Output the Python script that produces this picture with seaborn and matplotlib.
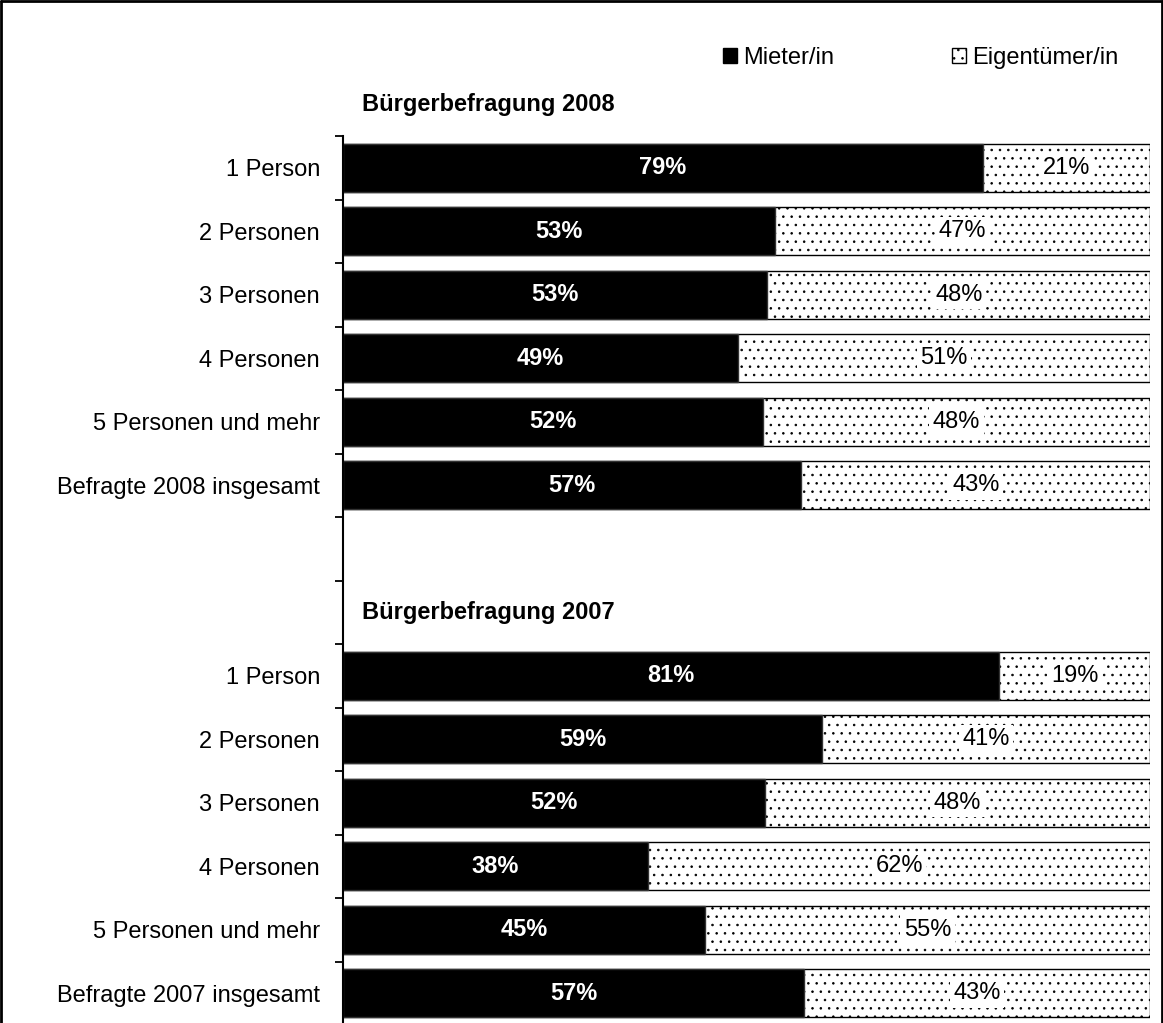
import pandas as pd
import seaborn as sns
import matplotlib.pyplot as plt
from matplotlib.patches import Patch
from matplotlib.lines import Line2D

kategorien = ['1 Person', '2 Personen', '3 Personen', '4 Personen',
              '5 Personen und mehr']
mieter_2008 = [79.3, 53.5, 52.6, 49.0, 52.0, 56.8]
mieter_2007 = [81.3, 59.4, 52.3, 37.8, 44.9, 57.1]
# beschriftete Prozentwerte
label_mieter_2008 = [79, 53, 53, 49, 52, 57]
label_eigen_2008 = [21, 47, 48, 51, 48, 43]
label_mieter_2007 = [81, 59, 52, 38, 45, 57]
label_eigen_2007 = [19, 41, 48, 62, 55, 43]

rows = []
for jahr, mieter, lm, le in [(2008, mieter_2008, label_mieter_2008, label_eigen_2008),
                             (2007, mieter_2007, label_mieter_2007, label_eigen_2007)]:
    namen = kategorien + [f'Befragte {jahr} insgesamt']
    for name, m, a, b in zip(namen, mieter, lm, le):
        rows.append({'key': f'{jahr}|{name}', 'name': name, 'mieter': m,
                     'gesamt': 100.0, 'lm': a, 'le': b})
df = pd.DataFrame(rows)

order = list(df['key'][:6]) + ['leer1', 'leer2'] + list(df['key'][6:])
ticklabels = list(df['name'][:6]) + ['', ''] + list(df['name'][6:])

FS = 17

sns.set_style('white')
plt.rcParams['font.family'] = ['Liberation Sans', 'DejaVu Sans']
plt.rcParams['hatch.linewidth'] = 0.6
plt.rcParams['text.color'] = 'black'
plt.rcParams['ytick.color'] = 'black'
plt.rcParams['ytick.labelcolor'] = 'black'

fig = plt.figure(figsize=(11.63, 10.23), dpi=100)
ax = fig.add_axes([343 / 1163, -0.002, 807 / 1163, 0.869])

sns.barplot(data=df, y='key', x='gesamt', order=order, color='white',
            edgecolor='black', linewidth=1, hatch='..', width=0.75,
            saturation=1, orient='h', ax=ax)
sns.barplot(data=df, y='key', x='mieter', order=order, color='black',
            edgecolor='#333333', linewidth=1, width=0.75, saturation=1,
            orient='h', ax=ax)

pos = {k: i for i, k in enumerate(order)}
for _, r in df.iterrows():
    y = pos[r['key']]
    ax.text(r['mieter'] / 2, y, f"{r['lm']}%", color='white', fontsize=FS,
            fontweight='bold', ha='center', va='center', zorder=5)
    ax.text((r['mieter'] + 100) / 2, y, f"{r['le']}%", color='black',
            fontsize=FS, ha='center', va='center', zorder=5,
            bbox=dict(facecolor='white', edgecolor='none', pad=2.5))

ax.set_xlim(0, 100)
ax.set_ylim(13.5, -0.5)
ax.set_xlabel('')
ax.set_ylabel('')
ax.set_xticks([])
ax.set_yticks(range(len(order)))
ax.set_yticklabels(ticklabels, fontsize=FS, color='black')
ax.set_yticks([i - 0.5 for i in range(len(order) + 1)], minor=True)
ax.tick_params(axis='y', which='major', length=0, pad=16.5)
ax.tick_params(axis='y', which='minor', length=6, width=1.3, color='black',
               direction='out', left=True)
for s in ['top', 'right', 'bottom']:
    ax.spines[s].set_visible(False)
ax.spines['left'].set_color('black')
ax.spines['left'].set_linewidth(1.5)

ax.text(2.4, -1, 'Bürgerbefragung 2008', fontsize=FS, fontweight='bold',
        color='black', va='center', ha='left', clip_on=False)
ax.text(2.4, 7, 'Bürgerbefragung 2007', fontsize=FS, fontweight='bold',
        color='black', va='center', ha='left')

handles = [Patch(facecolor='black', edgecolor='black', label='Mieter/in'),
           Patch(facecolor='white', edgecolor='black', hatch='..',
                 label='Eigentümer/in')]
fig.legend(handles=handles, loc='center right', bbox_to_anchor=(1128 / 1163, 1 - 58 / 1023),
           ncol=2, frameon=False, fontsize=FS, handlelength=0.6, handleheight=0.6,
           handletextpad=0.25, columnspacing=5.0, borderaxespad=0,
           labelcolor='black')

# Rahmen um die Grafik
for xs, ys in [([0.001, 0.001], [0, 0.999]), ([0.001, 0.999], [0.999, 0.999]),
               ([0.999, 0.999], [0.999, 0])]:
    fig.add_artist(Line2D(xs, ys, color='black', linewidth=2,
                          transform=fig.transFigure))

fig.savefig('out.png', dpi=100)
